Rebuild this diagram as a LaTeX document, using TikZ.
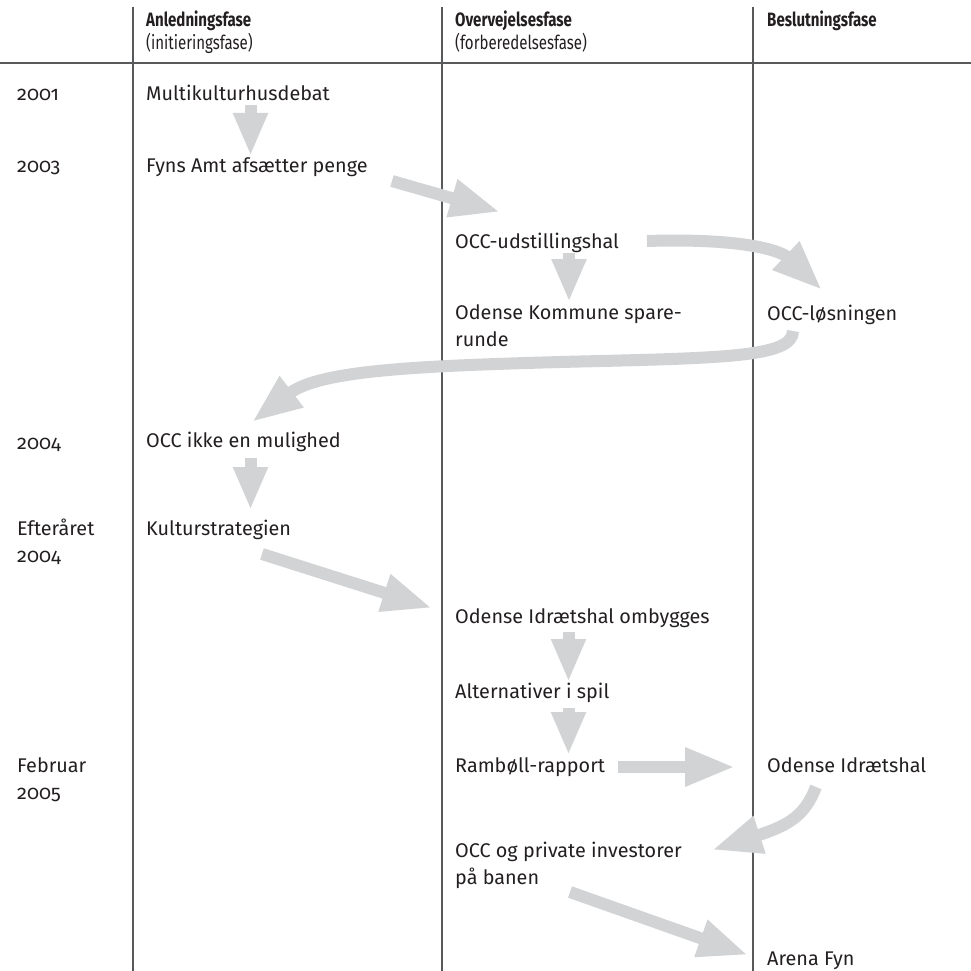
\documentclass[tikz,border=0pt]{standalone}
\usepackage{fontspec}
\setmainfont{Fira Sans}[Numbers=OldStyle]
\newfontfamily\headfont{Fira Sans}[FakeStretch=0.78]
\usetikzlibrary{arrows.meta}
\definecolor{arrowgray}{HTML}{D1D3D4}
\definecolor{rulegray}{HTML}{58595B}
\definecolor{textblack}{HTML}{231F20}
\begin{document}
\begin{tikzpicture}[x=1pt,y=-1pt,
  lbl/.style={anchor=base west, inner sep=0pt, text=textblack, align=left,
    font=\fontsize{19.8}{26.5}\selectfont},
  head/.style={anchor=base west, inner sep=0pt, text=textblack, align=left,
    font=\headfont\fontsize{19.3}{23}\selectfont},
  rule/.style={draw=rulegray, line width=1.3pt},
  flow/.style={draw=arrowgray, line width=12pt, -{Triangle[width=36pt,length=50pt]}},
  flowv/.style={draw=arrowgray, line width=12pt, -{Triangle[width=32pt,length=43pt]}}]
\useasboundingbox (0,0) rectangle (971,971);
% grid lines
\coordinate (v1t) at (133,7);   \coordinate (v1b) at (133,971);
\coordinate (v2t) at (442,7);   \coordinate (v2b) at (442,971);
\coordinate (v3t) at (753,7);   \coordinate (v3b) at (753,971);
\coordinate (hl) at (0,63);     \coordinate (hr) at (971,63);
\draw[rule] (v1t) -- (v1b);
\draw[rule] (v2t) -- (v2b);
\draw[rule] (v3t) -- (v3b);
\draw[rule] (hl) -- (hr);
% arrow end points
\coordinate (a1s) at (250.5,105); \coordinate (a1e) at (250.5,156);
\coordinate (a2s) at (392,181);   \coordinate (a2e) at (500,212);
\coordinate (a3s) at (647,241);   \coordinate (a3e) at (822,290);
\coordinate (a4s) at (569,253);   \coordinate (a4e) at (569,302);
\coordinate (a5s) at (793,331);   \coordinate (a5m) at (560,362); \coordinate (a5e) at (252,422);
\coordinate (a6s) at (250.5,458); \coordinate (a6e) at (250.5,510);
\coordinate (a7s) at (262,554);   \coordinate (a7e) at (432,608);
\coordinate (a8s) at (568.5,632); \coordinate (a8e) at (568.5,682);
\coordinate (a9s) at (568.5,708); \coordinate (a9e) at (568.5,755);
\coordinate (a10s) at (618,767);  \coordinate (a10e) at (735,767);
\coordinate (a11s) at (816,787);  \coordinate (a11e) at (712,850);
\coordinate (a12s) at (570,892);  \coordinate (a12e) at (748,955);
\draw[flowv] (a1s) -- (a1e);
\draw[flow] (a2s) -- (a2e);
\draw[flow] (a3s) .. controls (740,238) and (780,250) .. (a3e);
\draw[flowv] (a4s) -- (a4e);
\draw[flow] (a5s) .. controls (793,358) and (720,358) .. (a5m) .. controls (420,366) and (320,370) .. (a5e);
\draw[flowv] (a6s) -- (a6e);
\draw[flow] (a7s) -- (a7e);
\draw[flowv] (a8s) -- (a8e);
\draw[flowv] (a9s) -- (a9e);
\draw[flow] (a10s) -- (a10e);
\draw[flow] (a11s) .. controls (805,815) and (790,825) .. (a11e);
\draw[flow] (a12s) -- (a12e);
% headers (base anchor = baseline of last line)
\node[head] (h1) at (146,50) {\bfseries Anledningsfase\\(initieringsfase)};
\node[head] (h2) at (455,50) {\bfseries Overvejelsesfase\\(forberedelsesfase)};
\node[head] (h3) at (767,27) {\bfseries Beslutningsfase};
% years
\node[lbl] (y2001) at (17,101) {2001};
\node[lbl] (y2003) at (17,172) {2003};
\node[lbl] (y2004) at (17,449) {2004};
\node[lbl] (yeft) at (17,562) {Efteråret\\2004};
\node[lbl] (yfeb) at (17,799) {Februar\\2005};
% items
\node[lbl] (multi) at (146,101) {Multikulturhusdebat};
\node[lbl] (fyns) at (146,172) {Fyns Amt afsætter penge};
\node[lbl] (occud) at (455,248) {OCC-udstillingshal};
\node[lbl] (oksp) at (455,346) {Odense Kommune spare-\\runde};
\node[lbl] (occl) at (767,320) {OCC-løsningen};
\node[lbl] (occik) at (146,447) {OCC ikke en mulighed};
\node[lbl] (kult) at (146,535) {Kulturstrategien};
\node[lbl] (oiom) at (455,623) {Odense Idrætshal ombygges};
\node[lbl] (alt) at (455,698) {Alternativer i spil};
\node[lbl] (ramb) at (455,772) {Rambøll-rapport};
\node[lbl] (oi) at (767,772) {Odense Idrætshal};
\node[lbl] (occpriv) at (455,884) {OCC og private investorer\\på banen};
\node[lbl] (arena) at (767,965) {Arena Fyn};
\end{tikzpicture}
\end{document}
